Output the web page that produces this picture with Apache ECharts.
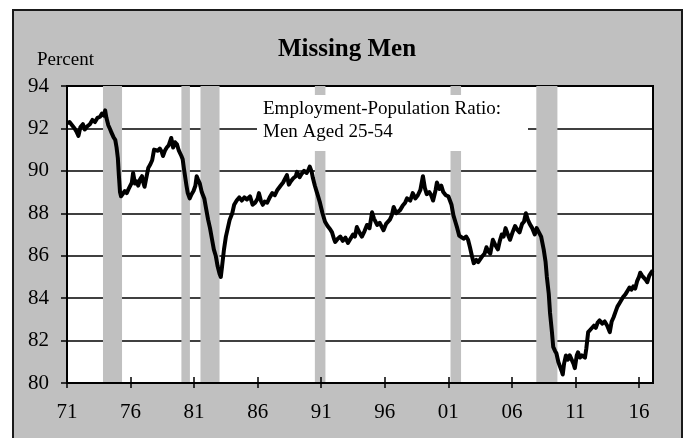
<!DOCTYPE html>
<html><head><meta charset="utf-8">
<script src="https://cdn.jsdelivr.net/npm/echarts@6/dist/echarts.min.js"></script>
<style>
html,body{margin:0;padding:0;background:#fff;}
#frame{position:absolute;left:12px;top:9px;width:671px;height:445px;box-sizing:border-box;border:2px solid #1a1a1a;background:#c0c0c0;}
#chart{position:absolute;left:0;top:0;width:684px;height:438px;}
</style></head><body>
<div id="frame"></div><div id="chart"></div>
<script>
// Observation dates (decimal years) and employment-population ratio, men aged 25-54 (%)
const obsDates = [
1971.00,1971.20,1971.40,1971.60,1971.75,1971.90,1972.05,1972.25,1972.40,1972.60,1972.80,
1973.00,1973.20,1973.40,1973.60,1973.75,1973.90,1974.00,1974.10,1974.25,1974.40,1974.50,1974.65,1974.80,1974.90,
1975.00,1975.08,1975.17,1975.25,1975.40,1975.55,1975.70,1975.85,1976.00,1976.10,1976.20,1976.35,1976.50,1976.60,1976.75,1976.90,
1977.00,1977.10,1977.25,1977.40,1977.55,1977.70,1977.85,1978.00,1978.15,1978.30,1978.45,1978.55,1978.70,1978.85,
1979.00,1979.20,1979.35,1979.50,1979.65,1979.80,1980.00,1980.10,1980.20,1980.30,1980.40,1980.50,1980.65,1980.80,1980.95,
1981.10,1981.20,1981.30,1981.45,1981.60,1981.80,1981.95,1982.10,1982.25,1982.40,1982.55,1982.70,1982.85,
1983.00,1983.10,1983.20,1983.35,1983.50,1983.65,1983.80,1984.00,1984.15,1984.35,1984.55,1984.75,1984.95,
1985.15,1985.40,1985.60,1985.80,1986.00,1986.10,1986.25,1986.40,1986.55,1986.75,1986.95,
1987.15,1987.35,1987.55,1987.80,1988.00,1988.15,1988.30,1988.45,1988.60,1988.80,
1989.00,1989.10,1989.30,1989.45,1989.65,1989.85,1990.00,1990.10,1990.25,1990.35,1990.50,1990.70,1990.90,
1991.10,1991.30,1991.50,1991.70,1991.85,1992.00,1992.10,1992.30,1992.50,1992.70,1992.90,
1993.10,1993.30,1993.50,1993.65,1993.80,1994.00,1994.20,1994.40,1994.60,1994.80,
1995.00,1995.15,1995.40,1995.60,1995.90,1996.10,1996.40,1996.55,1996.70,1996.90,
1997.20,1997.40,1997.60,1997.75,1998.00,1998.20,1998.40,1998.60,1998.80,
1999.00,1999.15,1999.30,1999.50,1999.65,1999.80,2000.00,2000.10,2000.30,2000.45,2000.60,2000.80,
2001.00,2001.10,2001.25,2001.40,2001.55,2001.70,2001.85,2002.00,2002.20,2002.40,2002.55,2002.70,2002.85,
2003.00,2003.20,2003.35,2003.50,2003.70,2003.85,2004.00,2004.15,2004.30,2004.50,2004.70,2004.90,
2005.05,2005.20,2005.35,2005.50,2005.65,2005.85,2006.05,2006.25,2006.45,2006.60,2006.80,2006.95,
2007.10,2007.25,2007.40,2007.60,2007.80,2007.95,2008.10,2008.30,2008.50,2008.65,2008.75,2008.90,
2009.00,2009.15,2009.25,2009.40,2009.50,2009.65,2009.80,2009.95,2010.00,2010.10,2010.25,2010.40,2010.55,2010.70,2010.85,2010.95,
2011.10,2011.20,2011.35,2011.50,2011.65,2011.75,2011.85,2012.00,2012.15,2012.30,2012.45,2012.60,2012.75,2012.90,
2013.10,2013.30,2013.50,2013.70,2013.85,2014.00,2014.15,2014.30,2014.45,2014.60,2014.75,2014.95,
2015.10,2015.25,2015.40,2015.55,2015.70,2015.85,2016.00,2016.10,2016.25,2016.40,2016.55,2016.65,2016.80,2016.95,2017.08
];
const empPopRatio = [
92.25,92.3,92.15,92.0,91.85,91.65,92.05,92.2,91.95,92.1,92.2,
92.4,92.3,92.5,92.55,92.7,92.6,92.85,92.5,92.15,91.95,91.8,91.6,91.45,91.1,
90.6,89.8,89.0,88.8,88.85,89.05,88.95,89.15,89.1,89.45,89.9,89.4,89.5,89.3,89.6,89.75,
89.45,89.25,89.7,90.15,90.3,90.5,91.0,91.05,90.95,91.05,90.9,90.7,90.95,91.1,
91.2,91.55,91.1,91.35,91.25,90.95,90.7,90.55,90.1,89.7,89.3,88.95,88.7,88.9,89.05,
89.3,89.75,89.6,89.4,89.0,88.7,88.2,87.7,87.3,86.8,86.3,86.0,85.5,
85.15,85.0,85.5,86.3,86.9,87.3,87.7,88.0,88.4,88.6,88.75,88.6,88.75,
88.65,88.8,88.4,88.5,88.7,88.95,88.6,88.4,88.55,88.5,88.75,
88.95,88.85,89.1,89.3,89.45,89.5,89.8,89.35,89.5,89.65,
89.75,89.95,89.7,89.85,90.0,89.9,90.05,90.2,89.95,89.65,89.3,88.9,88.5,
88.0,87.6,87.4,87.25,87.1,86.8,86.65,86.8,86.9,86.7,86.85,
86.6,86.8,87.0,86.9,87.35,87.1,86.9,87.15,87.45,87.3,
88.05,87.75,87.45,87.55,87.2,87.5,87.7,87.9,88.3,88.0,
88.15,88.35,88.5,88.7,88.6,88.95,88.7,88.85,89.1,
89.75,89.2,88.9,89.0,88.85,88.6,89.1,89.45,89.15,89.3,89.0,88.85,
88.8,88.85,88.4,87.9,87.6,87.3,86.95,87.0,86.8,86.9,86.75,86.4,86.0,
85.65,85.8,85.7,85.75,86.0,86.1,86.4,86.2,86.1,86.75,86.5,86.3,
86.7,87.0,86.9,87.3,87.05,86.75,87.1,87.4,87.2,87.1,87.5,87.6,
88.0,87.7,87.5,87.3,87.0,87.3,87.35,86.9,86.3,85.7,85.0,84.2,
83.3,82.4,81.7,81.5,81.4,81.0,80.75,80.5,80.4,80.9,81.3,81.1,81.3,81.1,80.9,80.7,
81.3,81.45,81.2,81.3,81.35,81.2,81.6,82.4,82.5,82.45,82.7,82.6,82.85,82.95,
82.8,82.9,82.7,82.4,82.9,83.1,83.35,83.6,83.75,83.9,84.05,84.2,
84.35,84.5,84.4,84.55,84.45,84.8,85.0,85.2,85.05,85.0,84.85,84.75,85.05,85.2,85.3
];
// NBER recessions (decimal years, start / end of shaded month band)
const recessionStarts = [1973.83, 1980.0, 1981.5, 1990.5, 2001.17, 2007.92];
const recessionEnds   = [1975.33, 1980.67, 1983.0, 1991.33, 2002.0, 2009.58];
// Axis ticks
const xTickYears = [1971, 1976, 1981, 1986, 1991, 1996, 2001, 2006, 2011, 2016];
const yTicks = [80, 82, 84, 86, 88, 90, 92, 94];
const baseYear = 1971;
const endYear = 2017.1;

const seriesData = obsDates.map((d, i) => [d - baseYear, empPopRatio[i]]);
const recessionAreas = recessionStarts.map((s, i) => [{xAxis: s - baseYear}, {xAxis: recessionEnds[i] - baseYear}]);
const tickOffsets = xTickYears.map(y => y - baseYear);
const serif = 'Liberation Serif';

const chart = echarts.init(document.getElementById('chart'), null, {renderer: 'canvas'});
chart.setOption({
  backgroundColor: 'transparent',
  animation: false,
  title: [
    {text: 'Missing Men', left: 347, top: 37, textAlign: 'center', padding: 0,
     textStyle: {fontFamily: serif, fontWeight: 'bold', fontSize: 25, color: '#000'}},
    {text: 'Percent', left: 37, top: 51, padding: 0,
     textStyle: {fontFamily: serif, fontWeight: 'normal', fontSize: 19, color: '#000'}}
  ],
  grid: {left: 67, right: 31, top: 86, bottom: 55, show: true, backgroundColor: '#fff', borderColor: '#000', borderWidth: 2},
  xAxis: [
    {type: 'value', min: 0, max: endYear - baseYear, position: 'bottom', z: 5,
     axisLine: {show: true, lineStyle: {color: '#000', width: 2}},
     axisTick: {show: true, inside: true, length: 6, customValues: tickOffsets, lineStyle: {color: '#000', width: 1.5}},
     axisLabel: {show: true, customValues: tickOffsets, margin: 19, fontFamily: serif, fontSize: 21, color: '#000',
       formatter: v => String(Math.round(baseYear + v) % 100).padStart(2, '0')},
     splitLine: {show: false}},
    {type: 'value', min: 0, max: endYear - baseYear, position: 'top', offset: -297, z: 5,
     axisLine: {show: false},
     axisTick: {show: true, inside: true, length: 5, customValues: tickOffsets, lineStyle: {color: '#000', width: 1.5}},
     axisLabel: {show: false}, splitLine: {show: false}}
  ],
  yAxis: {type: 'value', min: yTicks[0], max: yTicks[yTicks.length - 1], interval: 2,
    axisLine: {show: true, lineStyle: {color: '#000', width: 2}},
    axisTick: {show: true, length: 6, lineStyle: {color: '#000', width: 1.5}},
    axisLabel: {margin: 18, fontFamily: serif, fontSize: 21, color: '#000'},
    splitLine: {show: true, lineStyle: {color: '#000', width: 1.5}}},
  graphic: [
    {type: 'rect', z: 50, shape: {x: 257, y: 95, width: 271, height: 56}, style: {fill: '#fff'}},
    {type: 'text', z: 51, x: 263, y: 100, style: {text: 'Employment-Population Ratio:', font: '19px "Liberation Serif"', fill: '#000', verticalAlign: 'top'}},
    {type: 'text', z: 51, x: 263, y: 123, style: {text: 'Men Aged 25-54', font: '19px "Liberation Serif"', fill: '#000', verticalAlign: 'top'}}
  ],
  series: [{
    type: 'line', xAxisIndex: 0, data: seriesData, showSymbol: false, z: 3,
    lineStyle: {color: '#000', width: 4, join: 'round'},
    markArea: {silent: true, z: 1, itemStyle: {color: '#c0c0c0', opacity: 1, borderWidth: 0}, data: recessionAreas}
  }]
});
</script></body></html>
